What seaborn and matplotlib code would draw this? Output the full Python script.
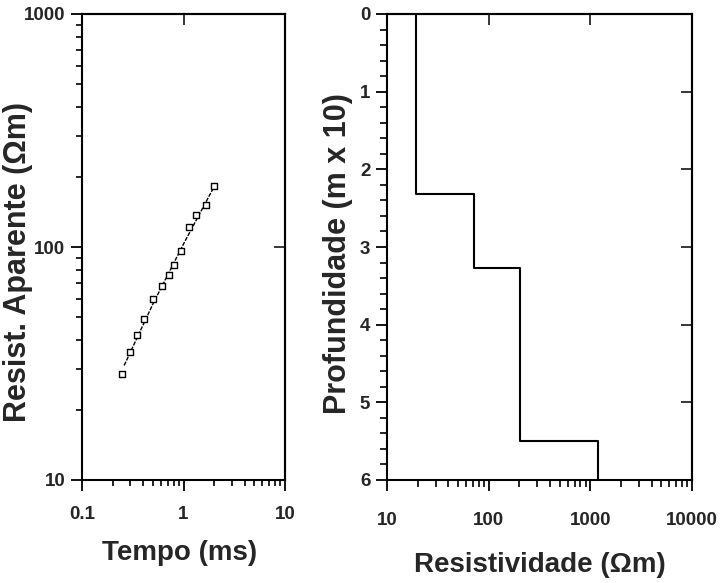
import matplotlib
matplotlib.use("Agg")
import matplotlib.pyplot as plt
import matplotlib.ticker as mticker
import seaborn as sns
import numpy as np

# apparent resistivity sounding
tempo = [0.245, 0.297, 0.345, 0.41, 0.496, 0.608, 0.712, 0.803, 0.94, 1.136, 1.34, 1.68, 2.0]
resist_ap = [28.5, 35.5, 41.9, 49.0, 59.7, 68.0, 75.6, 83.7, 96.1, 121.5, 136.8, 151.4, 182.8]
# fitted model curve
tempo_mod = [0.26, 0.5, 1.0, 2.05]
resist_mod = [31.0, 57.0, 103.0, 185.0]

# layered model
camada_rho = [19.3, 72, 205, 1190]
camada_topo = [0, 2.32, 3.27, 5.5]
prof_max = 6

sns.set_style("ticks")
plt.rcParams['font.family'] = ['Liberation Sans', 'DejaVu Sans']
plt.rcParams['axes.linewidth'] = 1.5

fig = plt.figure(figsize=(7.24, 5.83), dpi=100)
ax1 = fig.add_axes([82/724, 1-480/583, 203/724, 466/583])
ax2 = fig.add_axes([387/724, 1-480/583, 305/724, 466/583])

tick_font = dict(fontsize=13.5, fontweight='bold')
xlab_font = dict(fontsize=20, fontweight='bold')
ylab_font = dict(fontsize=22, fontweight='bold')

# ---- left panel
sns.lineplot(x=tempo_mod, y=resist_mod, ax=ax1, color='black', lw=1.0,
             linestyle=(0, (3, 1)), sort=False, estimator=None)
sns.scatterplot(x=tempo, y=resist_ap, ax=ax1, marker='s', s=18,
                facecolor='white', edgecolor='black', linewidth=1.0, zorder=3)
ax1.set_xscale('log')
ax1.set_yscale('log')
ax1.set_xlim(0.1, 10)
ax1.set_ylim(10, 1000)
ax1.set_xticks([0.1, 1, 10])
ax1.set_xticklabels(['0.1', '1', '10'], **tick_font)
ax1.set_yticks([10, 100, 1000])
ax1.set_yticklabels(['10', '100', '1000'], **tick_font)
ax1.tick_params(which='major', direction='out', length=8, width=1.3, color='black')
ax1.tick_params(which='minor', direction='out', length=4, width=1.2, color='black')
ax1.tick_params(axis='x', which='major', pad=11)
ax1.tick_params(axis='y', which='major', pad=4)
ax1.set_xlabel('Tempo (ms)', **xlab_font)
ax1.set_ylabel('Resist. Aparente (Ωm)', **ylab_font)
ax1.xaxis.set_label_coords(0.48, -0.128)
ax1.yaxis.set_label_coords(-0.24, 0.468)

top1 = ax1.secondary_xaxis('top')
top1.set_xticks([1])
top1.xaxis.set_minor_locator(mticker.NullLocator())
top1.tick_params(direction='in', length=8, width=1.3, labeltop=False)
right1 = ax1.secondary_yaxis('right')
right1.set_yticks([100])
right1.yaxis.set_minor_locator(mticker.NullLocator())
right1.tick_params(direction='in', length=8, width=1.3, labelright=False)

# ---- right panel
fundo = camada_topo[1:] + [prof_max]
xs = np.repeat(camada_rho, 2)
ys = np.ravel(np.column_stack([camada_topo, fundo]))
sns.lineplot(x=xs, y=ys, ax=ax2, color='black', lw=1.5, sort=False, estimator=None)
ax2.set_xscale('log')
ax2.set_xlim(10, 10000)
ax2.set_ylim(prof_max, 0)
ax2.set_xticks([10, 100, 1000, 10000])
ax2.set_xticklabels(['10', '100', '1000', '10000'], **tick_font)
ax2.yaxis.set_minor_locator(mticker.MultipleLocator(0.2))
ax2.set_yticks(range(0, 7))
ax2.set_yticklabels([str(i) for i in range(0, 7)], **tick_font)
ax2.tick_params(which='major', direction='out', length=8, width=1.3, color='black')
ax2.tick_params(which='minor', direction='out', length=5, width=1.2, color='black')
ax2.tick_params(axis='x', which='major', pad=15)
ax2.tick_params(axis='y', which='major', pad=4)
ax2.set_xlabel('Resistividade (Ωm)', **xlab_font)
ax2.set_ylabel('Profundidade (m x 10)', **ylab_font)
ax2.xaxis.set_label_coords(0.5, -0.155)
ax2.yaxis.set_label_coords(-0.112, 0.485)

top2 = ax2.secondary_xaxis('top')
top2.set_xticks([100, 1000])
top2.xaxis.set_minor_locator(mticker.NullLocator())
top2.tick_params(direction='in', length=8, width=1.3, labeltop=False)
right2 = ax2.secondary_yaxis('right')
right2.set_yticks([1, 2, 3, 4, 5])
right2.yaxis.set_minor_locator(mticker.NullLocator())
right2.tick_params(direction='in', length=8, width=1.3, labelright=False)

for ax in (ax1, ax2):
    for sp in ax.spines.values():
        sp.set_visible(True)
        sp.set_color('black')

fig.savefig('out.png', dpi=100)
